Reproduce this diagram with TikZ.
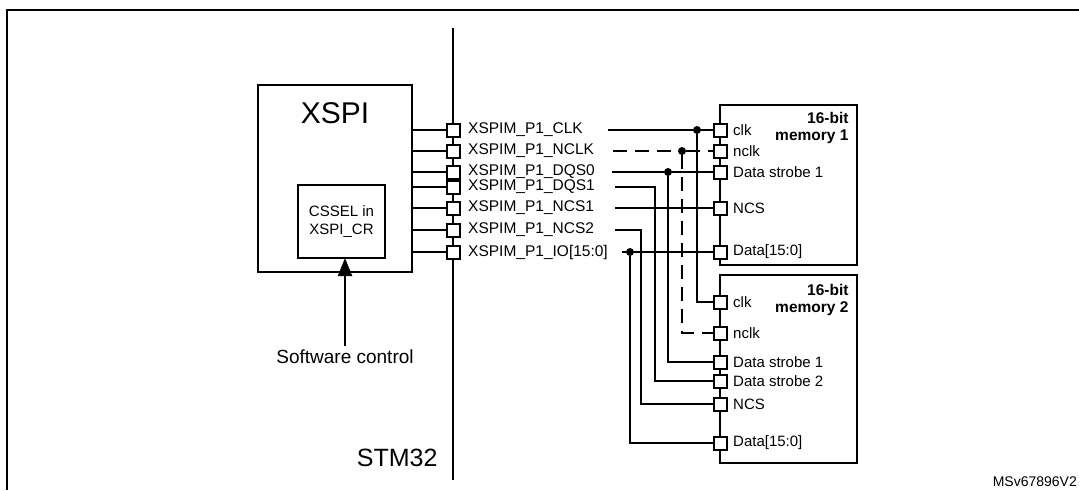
\documentclass[tikz,border=0pt]{standalone}
\usepackage{fontspec}
\setmainfont{Liberation Sans}
\usetikzlibrary{arrows.meta}
\begin{document}
\begin{tikzpicture}[x=1pt,y=-1pt,
  pin/.style={draw,line width=2pt,fill=white,minimum size=13pt,inner sep=0pt},
  lab/.style={anchor=west,font=\fontsize{15.5}{16}\selectfont,inner sep=0pt},
  mlab/.style={anchor=west,font=\fontsize{15}{16}\selectfont,inner sep=0pt},
  w/.style={line width=2.2pt},
  dsh/.style={line width=2.2pt,dash pattern=on 14pt off 8pt},
  dot/.style={circle,fill,inner sep=0pt,minimum size=8pt}]
\useasboundingbox (0,0) rectangle (1079,490);
\draw[line width=1.4pt] (7,490) -- (7,10) -- (1079,10);
% STM32 line
\coordinate (st) at (453,28); \coordinate (sb) at (453,480);
\draw[line width=2.4pt] (st) -- (sb);
\node[anchor=east,font=\fontsize{25}{25}\selectfont] (stm) at (441,458) {STM32};
% XSPI block
\node[draw,line width=1.4pt,minimum width=154pt,minimum height=187pt,inner sep=0pt] (xspi) at (335,178.5) {};
\node[font=\fontsize{30}{30}\selectfont] (xt) at (335,113) {XSPI};
\node[draw,line width=2.2pt,minimum width=87pt,minimum height=73pt,align=center,font=\fontsize{15}{18}\selectfont] (cs) at (341.5,221.5) {CSSEL in\\XSPI\_CR};
\node[font=\fontsize{19}{19}\selectfont] (sw) at (345,357) {Software control};
\coordinate (ah) at (345,258);
\draw[line width=2.2pt,-{Triangle[length=18pt,width=14pt]}] (sw.north) -- (ah);
% memories
\node[draw,line width=1.4pt,minimum width=137pt,minimum height=160pt,inner sep=0pt] (m1) at (788.5,185) {};
\node[draw,line width=1.4pt,minimum width=137pt,minimum height=188pt,inner sep=0pt] (m2) at (788.5,369) {};
\node[anchor=north east,align=right,font=\bfseries\fontsize{15.5}{17}\selectfont] (m1t) at (852,109) {16-bit\\memory 1};
\node[anchor=north east,align=right,font=\bfseries\fontsize{15.5}{17}\selectfont] (m2t) at (852,281) {16-bit\\memory 2};
% STM32 pins
\foreach \n/\y/\t in {clk/130/XSPIM\_P1\_CLK, nclk/151/XSPIM\_P1\_NCLK, dqsa/172/XSPIM\_P1\_DQS0, dqsb/187/XSPIM\_P1\_DQS1, ncsa/208/XSPIM\_P1\_NCS1, ncsb/230/XSPIM\_P1\_NCS2, io/252/XSPIM\_P1\_IO[15:0]}{
  \node[pin] (p\n) at (453,\y) {};
  \coordinate (x\n) at (412,\y);
  \draw[w] (x\n) -- (p\n);
  \node[lab] (l\n) at (468,\y) {\t};
}
% memory pins
\foreach \n/\y/\t in {clk/130/clk, nclk/151/nclk, ds/172/Data strobe 1, ncs/208/NCS, d/252/Data[15:0]}{
  \node[pin] (a\n) at (720,\y) {};
  \node[mlab] (al\n) at (733,\y) {\t};
}
\foreach \n/\y/\t in {clk/302/clk, nclk/333/nclk, dsa/362/Data strobe 1, dsb/381/Data strobe 2, ncs/404/NCS, d/443/Data[15:0]}{
  \node[pin] (b\n) at (720,\y) {};
  \node[mlab] (bl\n) at (733,\y) {\t};
}
\node[anchor=south east,font=\fontsize{14}{14}\selectfont,inner sep=0pt] (id) at (1077,487) {MSv67896V2};
% wires
\node[dot] (dclk) at (697,130) {};
\node[dot] (dnclk) at (682,151) {};
\node[dot] (dds) at (668,172) {};
\node[dot] (dio) at (630,252) {};
\coordinate (s1) at (608,130); \coordinate (s2) at (613,151); \coordinate (s3) at (612,172);
\coordinate (s4) at (615,187); \coordinate (s5) at (615,208); \coordinate (s6) at (615,230);
\coordinate (s7) at (622,252);
\draw[w] (s1) -- (dclk) -- (aclk.west);
\draw[w] (dclk) |- (bclk.west);
\draw[dsh] (s2) -- (dnclk) -- (anclk.west);
\draw[dsh] (dnclk) |- (bnclk.west);
\draw[w] (s3) -- (dds) -- (ads.west);
\draw[w] (dds) |- (bdsa.west);
\draw[w] (s4) -| (655,381) -- (bdsb.west);
\draw[w] (s5) -- (ancs.west);
\draw[w] (s6) -| (641,404) -- (bncs.west);
\draw[w] (s7) -- (dio) -- (ad.west);
\draw[w] (dio) |- (bd.west);
\end{tikzpicture}
\end{document}
